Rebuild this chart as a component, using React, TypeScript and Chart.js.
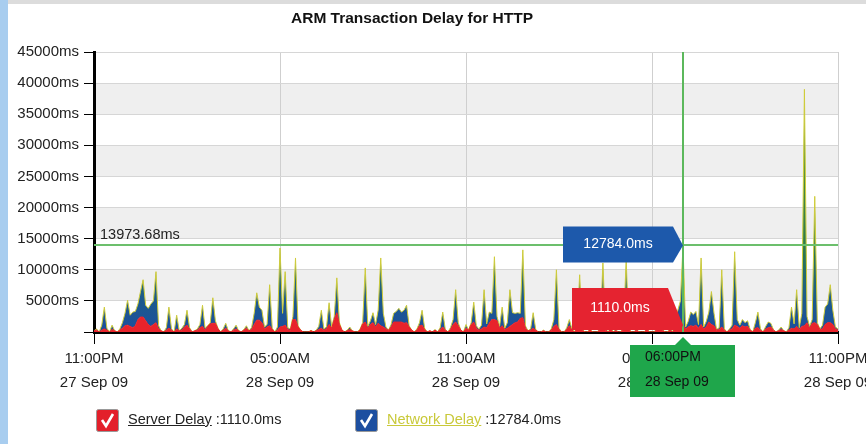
import React, { useEffect, useRef } from "react";
import { Chart, registerables } from "chart.js";

Chart.register(...registerables);

// 5-minute slots from 11:00PM 27 Sep 09 (slot 0) to 11:00PM 28 Sep 09 (slot 288)
const serverDelay: number[] = [
  200, 300, 0, 300, 500, 300, 0, 400, 200, 0, 300, 600,
  1000, 1100, 900, 700, 1000, 2000, 2400, 2400, 1800, 1200, 900, 1200,
  1500, 500, 200, 0, 300, 600, 300, 0, 500, 200, 300, 800,
  1100, 500, 0, 200, 300, 700, 900, 300, 900, 1300, 1400, 1400,
  500, 0, 300, 600, 200, 0, 300, 500, 200, 0, 300, 600,
  200, 400, 1200, 1900, 1900, 1500, 500, 800, 1000, 400, 0, 300,
  800, 900, 1100, 400, 300, 2000, 2000, 800, 300, 0, 0, 0,
  200, 0, 200, 400, 600, 300, 500, 1200, 600, 2000, 3100, 1200,
  300, 0, 200, 400, 200, 0, 0, 300, 1300, 1600, 600, 1200,
  1500, 800, 1400, 1000, 800, 500, 300, 800, 1600, 1600, 1600, 1600,
  1400, 1500, 800, 300, 0, 300, 1000, 1100, 400, 0, 200, 0,
  300, 0, 400, 800, 300, 0, 400, 1200, 1600, 1000, 300, 0,
  600, 300, 1200, 1600, 600, 300, 500, 800, 700, 1400, 2000, 2000,
  1800, 600, 1000, 400, 600, 900, 1200, 1500, 1600, 2200, 2300, 600,
  200, 300, 600, 300, 0, 0, 200, 0, 0, 300, 900, 1200,
  400, 0, 0, 400, 1000, 300, 0, 500, 1000, 300, 0, 0,
  300, 0, 0, 0, 500, 1000, 300, 0, 400, 0, 200, 0,
  0, 600, 1200, 400, 0, 0, 300, 0, 0, 0, 400, 0,
  0, 0, 500, 800, 300, 0, 0, 300, 0, 600, 800, 1000,
  1110, 500, 800, 1000, 900, 1100, 600, 1200, 500, 800, 1600, 1200,
  1000, 300, 400, 800, 300, 0, 300, 500, 1100, 900, 600, 1000,
  800, 900, 300, 0, 600, 700, 300, 0, 500, 700, 800, 300,
  0, 200, 400, 200, 0, 300, 600, 500, 900, 400, 900, 1000,
  1500, 600, 1400, 1500, 1200, 400, 500, 1200, 1500, 1500, 1200, 500,
  300,
];

const networkDelay: number[] = [
  0, 200, 0, 800, 3500, 300, 0, 700, 0, 0, 200, 900,
  2000, 4000, 1800, 2500, 2300, 2500, 4100, 6000, 2500, 2600, 3600, 3800,
  8200, 500, 0, 0, 400, 3400, 200, 0, 2200, 0, 300, 400,
  2400, 200, 0, 0, 200, 500, 3400, 300, 100, 200, 4100, 400,
  100, 0, 200, 800, 0, 0, 200, 600, 0, 0, 100, 400,
  0, 300, 1800, 4400, 2100, 2000, 300, 400, 6600, 200, 0, 500,
  12700, 2100, 8600, 300, 200, 500, 9900, 200, 0, 0, 0, 0,
  100, 0, 100, 500, 2900, 200, 300, 3500, 200, 500, 5600, 300,
  0, 0, 100, 400, 0, 0, 0, 200, 200, 8700, 300, 600,
  1600, 400, 2100, 10900, 2200, 300, 0, 400, 1400, 1700, 2200, 1600,
  2100, 2800, 200, 0, 0, 200, 500, 2400, 200, 0, 0, 0,
  100, 0, 300, 2400, 100, 0, 300, 800, 5200, 500, 0, 0,
  600, 0, 300, 3200, 400, 200, 600, 6000, 600, 1800, 1000, 10100,
  700, 300, 3000, 200, 900, 5900, 1900, 1500, 1500, 800, 10900, 400,
  0, 200, 2500, 100, 0, 0, 100, 0, 0, 200, 1100, 8800,
  200, 0, 0, 300, 1000, 200, 0, 600, 8200, 200, 0, 0,
  200, 0, 0, 0, 600, 10100, 300, 0, 300, 0, 200, 0,
  0, 700, 10400, 200, 0, 0, 200, 0, 0, 0, 200, 0,
  0, 0, 600, 6200, 200, 0, 0, 400, 0, 1400, 2700, 4000,
  12784, 300, 900, 2200, 1900, 2200, 600, 10700, 300, 900, 1600, 5300,
  2000, 100, 300, 9200, 200, 0, 200, 600, 11800, 1100, 500, 1000,
  700, 900, 100, 0, 900, 2500, 200, 0, 400, 900, 600, 100,
  0, 100, 400, 0, 0, 400, 3400, 800, 5900, 300, 2100, 38000,
  1000, 300, 600, 20300, 300, 100, 600, 2800, 3000, 6100, 2300, 300,
  200,
];

const xTickLabels: string[][] = [
  ["11:00PM", "27 Sep 09"],
  ["05:00AM", "28 Sep 09"],
  ["11:00AM", "28 Sep 09"],
  ["05:00PM", "28 Sep 09"],
  ["11:00PM", "28 Sep 09"],
];
const yMax = 45000;
const yStep = 5000;
const shadedBands: number[][] = [
  [5000, 10000],
  [15000, 20000],
  [25000, 30000],
  [35000, 40000],
];
const thresholdValue = 13973.68;
const cursorSlot = 228;
const cursorLabel = ["06:00PM", "28 Sep 09"];
const titleText = "ARM Transaction Delay for HTTP";
const FONT = "'Liberation Sans', Arial, sans-serif";

export default function App() {
  const ref = useRef<HTMLCanvasElement | null>(null);

  useEffect(() => {
    document.body.style.margin = "0";
    const canvas = ref.current;
    if (!canvas) return;

    const bandPlugin = {
      id: "bands",
      beforeDraw(chart: any) {
        const { ctx, chartArea } = chart;
        const y = chart.scales.y;
        ctx.save();
        ctx.fillStyle = "#efefef";
        for (const [a, b] of shadedBands) {
          const top = y.getPixelForValue(b);
          const bot = y.getPixelForValue(a);
          ctx.fillRect(chartArea.left, top, chartArea.right - chartArea.left, bot - top);
        }
        ctx.restore();
      },
    };

    const overlayPlugin = {
      id: "overlay",
      afterDraw(chart: any) {
        const { ctx, chartArea } = chart;
        const x = chart.scales.x;
        const y = chart.scales.y;
        ctx.save();
        // title
        ctx.font = `bold 15.5px ${FONT}`;
        ctx.fillStyle = "#111";
        ctx.textAlign = "center";
        ctx.textBaseline = "middle";
        ctx.fillText(titleText, 412, 19);

        // threshold line
        const ty = y.getPixelForValue(thresholdValue);
        ctx.strokeStyle = "#6cbf6c";
        ctx.lineWidth = 2;
        ctx.beginPath();
        ctx.moveTo(chartArea.left, ty);
        ctx.lineTo(chartArea.right, ty);
        ctx.stroke();
        ctx.font = `14.5px ${FONT}`;
        ctx.fillStyle = "#222";
        ctx.textAlign = "left";
        ctx.textBaseline = "alphabetic";
        ctx.fillText(thresholdValue.toFixed(2) + "ms", chartArea.left + 6, ty - 6);

        // cursor line
        const cx = x.getPixelForValue(cursorSlot);
        ctx.strokeStyle = "#5cb85c";
        ctx.lineWidth = 2;
        ctx.beginPath();
        ctx.moveTo(cx, chartArea.top);
        ctx.lineTo(cx, chartArea.bottom);
        ctx.stroke();

        // blue callout (network delay, at stacked total)
        const net = networkDelay[cursorSlot];
        const srv = serverDelay[cursorSlot];
        const by = y.getPixelForValue(net + srv);
        ctx.fillStyle = "#1d59ab";
        ctx.beginPath();
        ctx.moveTo(cx - 120, by - 19);
        ctx.lineTo(cx - 10, by - 19);
        ctx.lineTo(cx, by);
        ctx.lineTo(cx - 10, by + 17);
        ctx.lineTo(cx - 120, by + 17);
        ctx.closePath();
        ctx.fill();
        ctx.fillStyle = "#fff";
        ctx.font = `14px ${FONT}`;
        ctx.textAlign = "center";
        ctx.textBaseline = "middle";
        ctx.fillText(net.toFixed(1) + "ms", cx - 65, by - 1);

        // red callout (server delay)
        const ry = y.getPixelForValue(srv);
        ctx.fillStyle = "#e52330";
        ctx.beginPath();
        ctx.moveTo(cx - 111, ry - 37);
        ctx.lineTo(cx - 15, ry - 37);
        ctx.lineTo(cx, ry);
        ctx.lineTo(cx - 2, ry + 5);
        ctx.lineTo(cx - 111, ry + 5);
        ctx.closePath();
        ctx.fill();
        ctx.fillStyle = "#fff";
        ctx.fillText(srv.toFixed(1) + "ms", cx - 63, ry - 17);

        // green time callout
        const gy = chartArea.bottom + 13;
        ctx.fillStyle = "#1fa64b";
        ctx.beginPath();
        ctx.moveTo(cx - 53, gy);
        ctx.lineTo(cx - 8, gy);
        ctx.lineTo(cx, gy - 8);
        ctx.lineTo(cx + 8, gy);
        ctx.lineTo(cx + 52, gy);
        ctx.lineTo(cx + 52, gy + 52);
        ctx.lineTo(cx - 53, gy + 52);
        ctx.closePath();
        ctx.fill();
        ctx.fillStyle = "#111";
        ctx.textAlign = "left";
        ctx.font = `14px ${FONT}`;
        ctx.fillText(cursorLabel[0], cx - 38, gy + 12);
        ctx.fillText(cursorLabel[1], cx - 38, gy + 37);
        ctx.restore();
      },
    };

    const networkFill = (context: any) => {
      const chart = context.chart;
      const { ctx, chartArea } = chart;
      if (!chartArea) return "#1c4f9e";
      const y = chart.scales.y;
      const g = ctx.createLinearGradient(0, y.getPixelForValue(0), 0, y.getPixelForValue(yMax));
      g.addColorStop(0, "#1c4f9e");
      g.addColorStop(0.12, "#1d5a8c");
      g.addColorStop(0.3, "#2a7a4c");
      g.addColorStop(0.6, "#4f8f3a");
      g.addColorStop(1, "#9aaa38");
      return g;
    };

    const chart = new Chart(canvas, {
      type: "line",
      data: {
        datasets: [
          {
            label: "Server Delay",
            data: serverDelay.map((v, i) => ({ x: i, y: v })),
            backgroundColor: "#e8232b",
            borderColor: "#e8232b",
            borderWidth: 1,
            fill: "origin",
            pointRadius: 0,
            tension: 0,
          },
          {
            label: "Network Delay",
            data: networkDelay.map((v, i) => ({ x: i, y: v })),
            backgroundColor: networkFill,
            borderColor: "#cfcc3a",
            borderWidth: 1,
            fill: "-1",
            pointRadius: 0,
            tension: 0,
          },
        ],
      },
      options: {
        animation: false,
        responsive: false,
        layout: { padding: { top: 52, right: 28, left: 0, bottom: 0 } },
        plugins: {
          legend: { display: false },
          tooltip: { enabled: false },
          title: { display: false },
        },
        scales: {
          x: {
            type: "linear",
            min: 0,
            max: serverDelay.length - 1,
            afterFit(scale: any) {
              scale.height = 112;
              scale.paddingLeft = 0;
              scale.paddingRight = 0;
            },
            ticks: {
              stepSize: 72,
              maxRotation: 0,
              autoSkip: false,
              padding: 2,
              color: "#222",
              font: { family: FONT, size: 15, lineHeight: 1.65 },
              callback: (v: any) => xTickLabels[Math.round(Number(v) / 72)] ?? "",
            },
            grid: { color: "#cfcfcf", tickColor: "#000", tickLength: 12, lineWidth: 1 },
            border: { color: "#000", width: 3 },
          },
          y: {
            min: 0,
            max: yMax,
            stacked: true,
            afterFit(scale: any) {
              scale.width = 94;
            },
            ticks: {
              stepSize: yStep,
              padding: 5,
              color: "#222",
              font: { family: FONT, size: 15 },
              callback: (v: any) => (Number(v) === 0 ? "" : v + "ms"),
            },
            grid: { color: "#d6d6d6", tickColor: "#000", tickLength: 10, lineWidth: 1 },
            border: { color: "#000", width: 3 },
          },
        },
      },
      plugins: [bandPlugin, overlayPlugin],
    });
    return () => chart.destroy();
  }, []);

  const textStyle: React.CSSProperties = {
    position: "absolute",
    top: 411,
    fontFamily: FONT,
    fontSize: 14.5,
    color: "#222",
    whiteSpace: "nowrap",
  };

  const Check = ({ bg, left }: { bg: string; left: number }) => (
    <svg
      width={23}
      height={23}
      style={{ position: "absolute", left, top: 409 }}
    >
      <rect x={0.5} y={0.5} width={22} height={22} rx={2} fill={bg} stroke="#999" />
      <path d="M6 11 L10 17 L17 5" stroke="#fff" strokeWidth={2.6} fill="none" />
    </svg>
  );

  return (
    <div style={{ position: "relative", width: 866, height: 444, background: "#fff", overflow: "hidden" }}>
      <canvas ref={ref} width={866} height={444} style={{ position: "absolute", left: 0, top: 0 }} />
      <div style={{ position: "absolute", left: 0, top: 0, width: 8, height: 444, background: "#a8cdef" }} />
      <div style={{ position: "absolute", left: 8, top: 0, width: 858, height: 4, background: "#dcdcdc" }} />
      <Check bg="#e3202b" left={96} />
      <div style={{ ...textStyle, left: 128 }}>
        <span style={{ textDecoration: "underline" }}>Server Delay</span> :1110.0ms
      </div>
      <Check bg="#1d4fa0" left={355} />
      <div style={{ ...textStyle, left: 387 }}>
        <span style={{ textDecoration: "underline", color: "#c9c93a" }}>Network Delay</span> :12784.0ms
      </div>
    </div>
  );
}
